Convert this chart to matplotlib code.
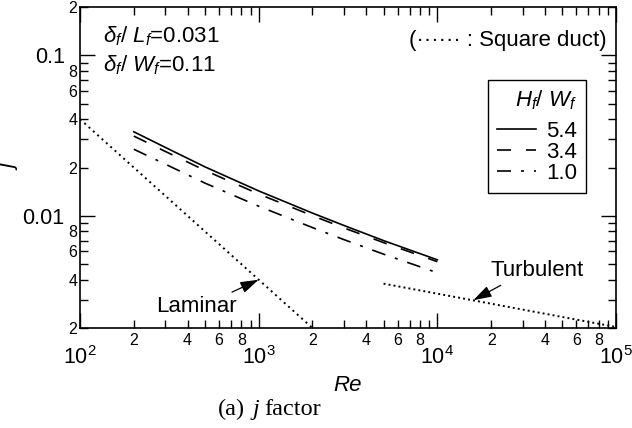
import matplotlib
matplotlib.use("Agg")
import matplotlib.pyplot as plt
import numpy as np
from matplotlib.ticker import LogLocator, FixedLocator, FixedFormatter, FuncFormatter

plt.rcParams["font.family"] = ["Liberation Sans", "DejaVu Sans"]
plt.rcParams["mathtext.fontset"] = "custom"
plt.rcParams["mathtext.rm"] = "Liberation Sans"
plt.rcParams["mathtext.it"] = "Liberation Sans:italic"
plt.rcParams["mathtext.bf"] = "Liberation Sans:bold"

# fin data
re_fin = [200, 300, 500, 1000, 2000, 3000, 5000, 10000]
j_54 = [0.0334, 0.0267, 0.0202, 0.0143, 0.0104, 0.00871, 0.00701, 0.00532]
j_34 = [0.0314, 0.0252, 0.0192, 0.01368, 0.01002, 0.00841, 0.00681, 0.00518]
j_10 = [0.0260, 0.0210, 0.0160, 0.01148, 0.00845, 0.00711, 0.00577, 0.00442]
ratio_labels = ["5.4", "3.4", "1.0"]

# square duct correlations
re_lam = [100, 2000]
j_lam = [0.04, 0.002]
re_turb = [5000, 100000]
j_turb = [0.00378, 0.00203]

fig = plt.figure(figsize=(6.32, 4.28), dpi=100)
ax = fig.add_axes([0.1266, 0.2336, 0.8481, 0.75])

lw = 1.2
fs = 16
ax.plot(re_fin, j_54, color="k", lw=lw, ls="-", label=ratio_labels[0])
ax.plot(re_fin, j_34, color="k", lw=lw, ls=(0, (8.4, 9.0)), label=ratio_labels[1])
ax.plot(re_fin, j_10, color="k", lw=lw, ls=(0, (8.4, 6.0, 1.8, 6.0)), label=ratio_labels[2])
ax.plot(re_lam, j_lam, color="k", lw=1.4, ls=(0, (1.0, 2.0)))
ax.plot(re_turb, j_turb, color="k", lw=1.4, ls=(0, (1.0, 1.6)))

ax.set_xscale("log")
ax.set_yscale("log")
ax.set_xlim(100, 1e5)
ax.set_ylim(0.002, 0.2)

for s in ax.spines.values():
    s.set_linewidth(1.2)

ax.yaxis.set_major_locator(FixedLocator([0.01, 0.1]))
ax.yaxis.set_major_formatter(FixedFormatter(["0.01", "0.1"]))
ax.yaxis.set_minor_locator(LogLocator(base=10, subs=np.arange(2, 10)))
ax.xaxis.set_minor_locator(LogLocator(base=10, subs=np.arange(2, 10)))


def minor_label(v, pos):
    d = int(round(v / 10 ** np.floor(np.log10(v) + 1e-9)))
    return str(d) if d in (2, 4, 6, 8) else ""


ax.xaxis.set_minor_formatter(FuncFormatter(minor_label))
ax.yaxis.set_minor_formatter(FuncFormatter(minor_label))

ax.tick_params(which="both", direction="in", top=True, right=True, width=1.0)
ax.tick_params(which="major", length=11, labelsize=15.5)
ax.tick_params(which="minor", length=5.5, labelsize=11.5)
ax.tick_params(axis="x", which="major", pad=13)
ax.tick_params(axis="x", which="minor", pad=3.5)
ax.tick_params(axis="y", which="major", pad=11)
ax.tick_params(axis="y", which="minor", pad=2)

ax.set_xlabel("Re", fontsize=fs, fontstyle="italic", va="center")
ax.set_ylabel("j", fontsize=fs, fontstyle="italic", va="center")
ax.xaxis.set_label_coords(0.5, -0.178)
ax.yaxis.set_label_coords(-0.13, 0.5)

ax.text(0.043, 0.91, r"$\delta_f$/ $L_f$=0.031", transform=ax.transAxes,
        fontsize=fs, va="center", ha="left")
ax.text(0.043, 0.819, r"$\delta_f$/ $W_f$=0.11", transform=ax.transAxes,
        fontsize=fs, va="center", ha="left")
ax.text(0.983, 0.897, "(\u00b7\u00b7\u00b7\u00b7\u00b7\u00b7 : Square duct)",
        transform=ax.transAxes, fontsize=fs, va="center", ha="right")

leg = ax.legend(title=r"$H_f$/ $W_f$", loc="upper right",
                bbox_to_anchor=(0.944, 0.773), borderaxespad=0,
                fontsize=fs, title_fontsize=fs, frameon=True, fancybox=False,
                edgecolor="k", framealpha=1, handlelength=1.75,
                handletextpad=0.45, labelspacing=0.0, borderpad=0.4,
                alignment="right")
leg.get_frame().set_linewidth(1.0)
leg._legend_box.sep = 6  # a bit more room under the title

arrow = dict(arrowstyle="-|>,head_length=0.7,head_width=0.22", color="k", lw=0.9,
             shrinkA=2, shrinkB=0)
ax.annotate("Laminar", xy=(1000, 0.004), xytext=(451, 0.00272),
            fontsize=fs, ha="center", va="center",
            arrowprops=dict(arrow, relpos=(0.83, 1.0)))
ax.annotate("Turbulent", xy=(15900, 0.00298), xytext=(36200, 0.00455),
            fontsize=fs, ha="center", va="center",
            arrowprops=dict(arrow, relpos=(0.19, 0.0)))

# caption "(a)  j factor" in serif
serif = ["Liberation Serif", "DejaVu Serif"]
t1 = fig.text(0.345, 0.030, "(a)", fontsize=17.5, family=serif, va="baseline", ha="left")
t2 = ax.annotate("j", xy=(1, 0), xycoords=t1, xytext=(5, 0), textcoords="offset points",
                 fontsize=17.5, family=serif, fontstyle="italic", va="bottom", ha="left",
                 annotation_clip=False)
t3 = ax.annotate("factor", xy=(1, 0), xycoords=t2, xytext=(4, 0), textcoords="offset points",
                 fontsize=17.5, family=serif, va="bottom", ha="left",
                 annotation_clip=False)

fig.savefig("out.png", dpi=100)
